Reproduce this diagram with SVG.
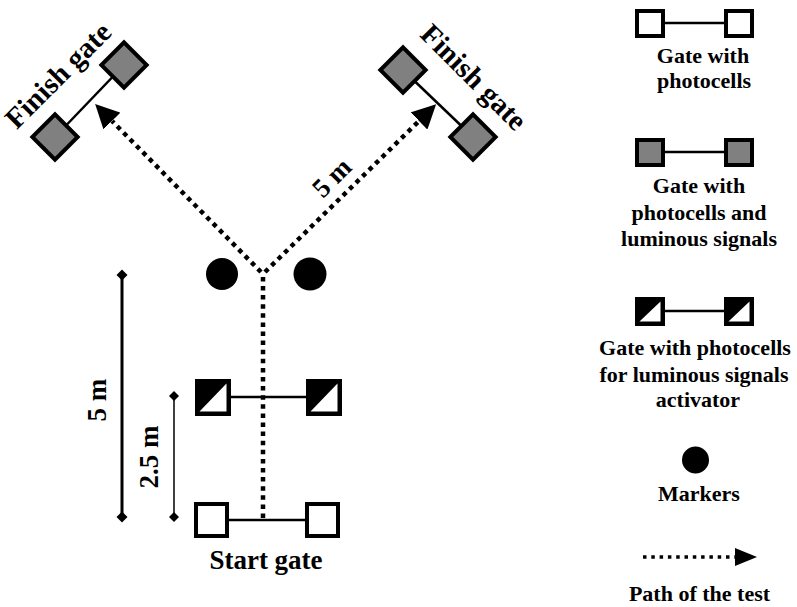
<svg xmlns="http://www.w3.org/2000/svg" width="797" height="607" viewBox="0 0 797 607">
<style>
  text { font-family: "Liberation Serif", "Times New Roman", serif; font-weight: bold; fill: #000; }
  .big { font-size: 27px; }
  .fin { font-size: 29px; }
  .leg { font-size: 22px; text-anchor: middle; }
  .sq { fill: #fff; stroke: #000; stroke-width: 4; }
  .gray { fill: #808080; stroke: #000; stroke-width: 4; }
  .act { fill: #000; stroke: #000; stroke-width: 4; }
  .tri { fill: #fff; stroke: none; }
  .bar { stroke: #000; stroke-width: 2.5; fill: none; }
  .dots { stroke: #000; stroke-width: 4.5; stroke-dasharray: 4.5 4.6; fill: none; }
  .dim { stroke: #000; fill: none; }
</style>
<defs>
  <marker id="arrow" markerUnits="userSpaceOnUse" viewBox="0 0 24 24" refX="0" refY="12" markerWidth="24" markerHeight="24" orient="auto">
    <path d="M0,0 L24,12 L0,24 z" fill="#000"/>
  </marker>
  <marker id="arrowS" markerUnits="userSpaceOnUse" viewBox="0 0 22 18" refX="0" refY="9" markerWidth="22" markerHeight="18" orient="auto">
    <path d="M0,0 L22,9 L0,18 z" fill="#000"/>
  </marker>
  <marker id="dia" markerUnits="userSpaceOnUse" viewBox="-6 -6 12 12" refX="0" refY="0" markerWidth="12" markerHeight="12" orient="0">
    <path d="M0,-5.5 L5.5,0 L0,5.5 L-5.5,0 z" fill="#000"/>
  </marker>
  <marker id="diaS" markerUnits="userSpaceOnUse" viewBox="-6 -6 12 12" refX="0" refY="0" markerWidth="12" markerHeight="12" orient="0">
    <path d="M0,-5 L5,0 L0,5 L-5,0 z" fill="#000"/>
  </marker>
</defs>

<!-- connectors / paths -->
<g id="connectors">
  <path class="dots" d="M263,518 L263,274"/>
  <path class="dots" d="M261,272 L112,121" marker-end="url(#arrow)"/>
  <path class="dots" d="M265,272 L419,121" marker-end="url(#arrow)"/>
  <path class="dim" stroke-width="3" d="M122,275 L122,517" marker-start="url(#dia)" marker-end="url(#dia)"/>
  <path class="dim" stroke-width="1.5" d="M174,396 L174,517" marker-start="url(#diaS)" marker-end="url(#diaS)"/>
</g>

<!-- start gate -->
<g id="start-gate">
  <line class="bar" x1="229" y1="520" x2="305" y2="520"/>
  <rect class="sq" x="196" y="504" width="31" height="32"/>
  <rect class="sq" x="307" y="504" width="31" height="32"/>
  <text class="big" x="266" y="569" text-anchor="middle" font-size="28">Start gate</text>
</g>

<!-- activator gate -->
<g id="activator-gate">
  <line class="bar" x1="231" y1="397" x2="306" y2="397"/>
  <rect class="act" x="197" y="381" width="32" height="33"/>
  <polygon class="tri" points="199.5,411.5 226.5,411.5 226.5,383.5"/>
  <rect class="act" x="308" y="381" width="32" height="33"/>
  <polygon class="tri" points="310.5,411.5 337.5,411.5 337.5,383.5"/>
</g>

<!-- markers -->
<g id="markers">
  <circle cx="222" cy="274" r="16" fill="#000"/>
  <circle cx="310" cy="274" r="16.5" fill="#000"/>
</g>

<!-- left finish gate -->
<g id="finish-gate-left">
  <line class="bar" x1="55" y1="137" x2="124" y2="65"/>
  <rect class="gray" x="-16" y="-16" width="32" height="32" transform="translate(124,65) rotate(45)"/>
  <rect class="gray" x="-16" y="-16" width="32" height="32" transform="translate(55,137) rotate(45)"/>
  <text class="fin" text-anchor="middle" transform="translate(65,82) rotate(-45)">Finish gate</text>
</g>

<!-- right finish gate -->
<g id="finish-gate-right">
  <line class="bar" x1="403" y1="70" x2="473" y2="137"/>
  <rect class="gray" x="-16" y="-16" width="32" height="32" transform="translate(403,70) rotate(45)"/>
  <rect class="gray" x="-16" y="-16" width="32" height="32" transform="translate(473,137) rotate(45)"/>
  <text class="fin" text-anchor="middle" transform="translate(467,84) rotate(45)">Finish gate</text>
</g>

<!-- dimension labels -->
<g id="labels">
  <text class="big" text-anchor="middle" transform="translate(338,184) rotate(-45)">5 m</text>
  <text class="big" text-anchor="middle" transform="translate(106,400) rotate(-90)">5 m</text>
  <text class="big" text-anchor="middle" transform="translate(158,457) rotate(-90)">2.5 m</text>
</g>

<!-- legend -->
<g id="legend-gate">
  <line class="bar" x1="665" y1="23" x2="724" y2="23"/>
  <rect class="sq" x="637" y="11" width="26" height="25"/>
  <rect class="sq" x="726" y="11" width="26" height="25"/>
  <text class="leg" x="703" y="63">Gate with</text>
  <text class="leg" x="704" y="88">photocells</text>
</g>
<g id="legend-gray-gate">
  <line class="bar" x1="665" y1="152" x2="724" y2="152"/>
  <rect class="gray" x="637" y="140" width="26" height="25"/>
  <rect class="gray" x="726" y="140" width="26" height="25"/>
  <text class="leg" x="699" y="193">Gate with</text>
  <text class="leg" x="699" y="220">photocells and</text>
  <text class="leg" x="699" y="246">luminous signals</text>
</g>
<g id="legend-activator">
  <line class="bar" x1="665" y1="311" x2="724" y2="311" stroke-width="1.5"/>
  <rect class="act" x="637" y="299" width="26" height="25"/>
  <polygon class="tri" points="639.5,321.5 660.5,321.5 660.5,301.5"/>
  <rect class="act" x="726" y="299" width="26" height="25"/>
  <polygon class="tri" points="728.5,321.5 749.5,321.5 749.5,301.5"/>
  <text class="leg" x="695" y="355">Gate with photocells</text>
  <text class="leg" x="694" y="382">for luminous signals</text>
  <text class="leg" x="698" y="407">activator</text>
</g>
<g id="legend-marker">
  <circle cx="695.5" cy="460" r="13.5" fill="#000"/>
  <text class="leg" x="699" y="501">Markers</text>
</g>
<g id="legend-path">
  <path d="M643,557 L735,557" stroke="#000" stroke-width="3.5" stroke-dasharray="3.5 4.8" fill="none" marker-end="url(#arrowS)"/>
  <text class="leg" x="699.5" y="601">Path of the test</text>
</g>
</svg>
